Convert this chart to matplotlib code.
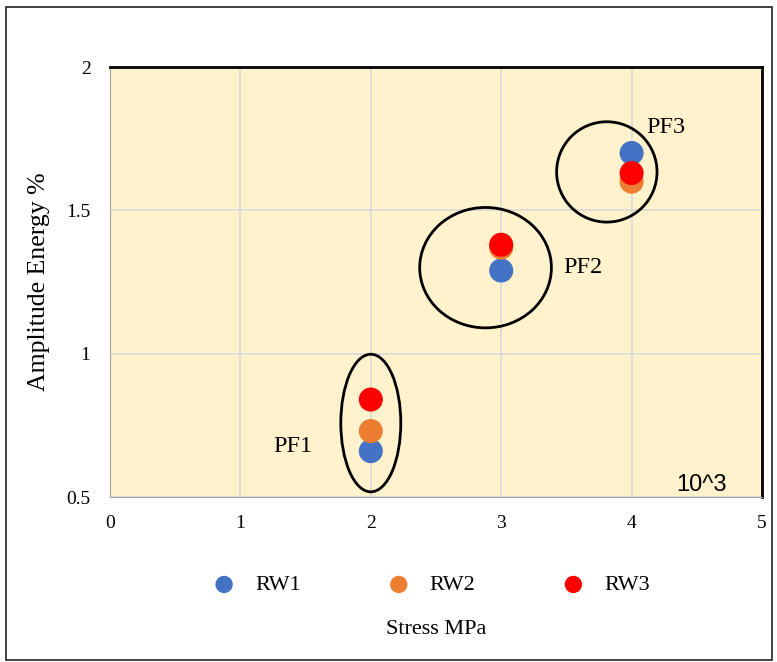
import matplotlib
matplotlib.use("Agg")
import matplotlib.pyplot as plt
from matplotlib.patches import Ellipse, Rectangle

stress = [2, 3, 4]
rw1 = [0.66, 1.29, 1.70]
rw2 = [0.73, 1.37, 1.60]
rw3 = [0.84, 1.38, 1.63]
series_names = ["RW1", "RW2", "RW3"]
series_colors = ["#4472C4", "#ED7D31", "#FF0000"]

groups = ["PF1", "PF2", "PF3"]
# (center x, center y, width, height) of each group outline, in data units
group_shapes = [(2.0, 0.758, 0.46, 0.48), (2.88, 1.30, 1.01, 0.42), (3.81, 1.634, 0.77, 0.35)]
group_label_pos = [(1.40, 0.675), (3.63, 1.30), (4.26, 1.79)]

serif = "Liberation Serif"

fig = plt.figure(figsize=(7.77, 6.62), dpi=100)
fig.patches.append(Rectangle((6 / 777, 2 / 662), 766 / 777, 653 / 662, transform=fig.transFigure,
                             fill=False, edgecolor="#222222", linewidth=1.2))

ax = fig.add_axes([110 / 777, 1 - 497 / 662, 652 / 777, 430 / 662])
ax.set_facecolor("#FFF2CC")
ax.set_xlim(0, 5)
ax.set_ylim(0.5, 2)
ax.set_xticks([0, 1, 2, 3, 4, 5])
ax.set_yticks([0.5, 1, 1.5, 2])
ax.set_yticklabels(["0.5", "1", "1.5", "2"])
ax.grid(True, color="#D9D9D9", linewidth=1.2)
ax.set_axisbelow(True)
ax.tick_params(length=0, labelsize=14)
ax.tick_params(axis="y", pad=14)
ax.tick_params(axis="x", pad=13)
for lab in ax.get_xticklabels() + ax.get_yticklabels():
    lab.set_fontfamily(serif)
ax.spines["top"].set_color("black")
ax.spines["right"].set_color("black")
ax.spines["top"].set_linewidth(2)
ax.spines["right"].set_linewidth(2)
ax.spines["left"].set_color("#A6A6A6")
ax.spines["bottom"].set_color("#A6A6A6")

for vals, name, col in zip([rw1, rw2, rw3], series_names, series_colors):
    ax.scatter(stress, vals, s=300, color=col, label=name, zorder=3, edgecolors="none")

for (cx, cy, w, h), g, (lx, ly) in zip(group_shapes, groups, group_label_pos):
    ax.add_patch(Ellipse((cx, cy), w, h, fill=False, edgecolor="black", linewidth=2, zorder=4))
    ax.text(lx, ly, g, fontsize=17.5, fontfamily=serif, ha="center", va="center", zorder=5)

ax.text(4.73, 0.503, "10^3", fontsize=17, fontfamily="Liberation Sans", ha="right", va="bottom")

ax.set_ylabel("Amplitude Energy %", fontsize=18.5, fontfamily=serif, labelpad=12)
fig.text(436 / 777, 1 - 630 / 662, "Stress MPa", fontsize=16, fontfamily=serif, ha="center", va="center")

leg = fig.legend(loc="center", bbox_to_anchor=(426 / 777, 1 - 585 / 662), ncol=3, frameon=False,
                 prop={"family": serif, "size": 16}, columnspacing=3.4, handletextpad=0.4,
                 markerscale=0.72)

fig.savefig("out.png", dpi=100)
